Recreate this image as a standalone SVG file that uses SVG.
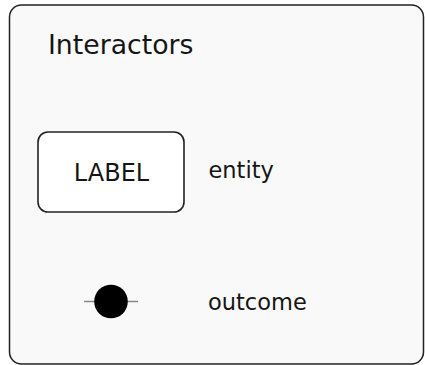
<svg xmlns="http://www.w3.org/2000/svg" width="425" height="365" viewBox="0 0 425 365">
  <style>
    text { font-family: "DejaVu Sans", "Liberation Sans", sans-serif; fill: #151515; }
    .title { font-size: 26.7px; }
    .node-label { font-size: 24px; }
    .legend { font-size: 22.5px; }
  </style>
  <rect width="425" height="365" fill="#ffffff"/>
  <g id="frame">
    <rect x="9.5" y="5" width="414" height="359" rx="12" fill="#f9f9f9" stroke="#222" stroke-width="1.5"/>
    <text class="title" x="48" y="53.5">Interactors</text>
  </g>
  <g id="entity">
    <rect x="38" y="132" width="146" height="80" rx="10" fill="#ffffff" stroke="#222" stroke-width="1.6"/>
    <text class="node-label" x="111.5" y="181" text-anchor="middle">LABEL</text>
    <text class="legend" x="208.5" y="178">entity</text>
  </g>
  <g id="connectors">
    <line x1="84" y1="301.5" x2="138" y2="301.5" stroke="#888" stroke-width="1.5"/>
  </g>
  <g id="outcome">
    <circle cx="111" cy="301.5" r="16.8" fill="#000"/>
    <text class="legend" x="208" y="309.5">outcome</text>
  </g>
</svg>
